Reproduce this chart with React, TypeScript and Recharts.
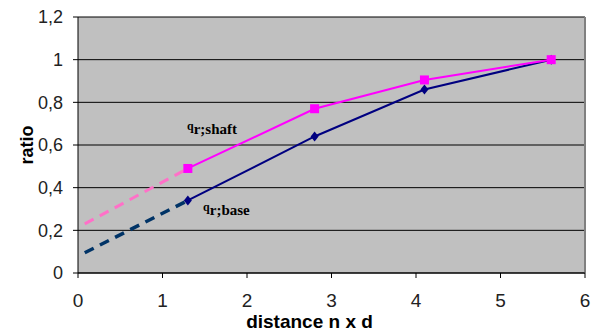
import { LineChart, Line, XAxis, YAxis, CartesianGrid, ReferenceLine, ReferenceDot } from "recharts";

// measured points
const distance = [1.3, 2.8, 4.1, 5.6];
const shaftRatio = [0.49, 0.77, 0.905, 1.0];
const baseRatio = [0.34, 0.64, 0.86, 1.0];

// dashed extrapolation toward x = 0
const extDistance = [0.08, 1.3];
const shaftExt = [0.23, 0.49];
const baseExt = [0.095, 0.34];

const xTicks = [0, 1, 2, 3, 4, 5, 6];
const yTicks = [0, 0.2, 0.4, 0.6, 0.8, 1, 1.2];

const toRows = (xs: number[], ys: number[]) => xs.map((x, i) => ({ x, y: ys[i] }));

const shaftData = toRows(distance, shaftRatio);
const baseData = toRows(distance, baseRatio);
const shaftExtData = toRows(extDistance, shaftExt);
const baseExtData = toRows(extDistance, baseExt);

const sans = "'Liberation Sans', Arial, sans-serif";

const SquareDot = (props: any) => {
  const { cx, cy } = props;
  if (cx == null || cy == null) return null;
  return <rect x={cx - 4.5} y={cy - 4.5} width={9} height={9} fill="#ff00ff" />;
};

const DiamondDot = (props: any) => {
  const { cx, cy } = props;
  if (cx == null || cy == null) return null;
  return (
    <polygon
      points={`${cx},${cy - 5} ${cx + 4},${cy} ${cx},${cy + 5} ${cx - 4},${cy}`}
      fill="#000080"
    />
  );
};

const SeriesLabel = (name: string) => (props: any) => {
  const vb = props.viewBox || {};
  const x = vb.x + (vb.width || 0) / 2;
  const y = vb.y + (vb.height || 0) / 2;
  return (
    <text x={x} y={y} fontFamily="'Liberation Serif', serif" fontWeight="bold" fill="#000">
      <tspan fontSize={12} dy={-4}>q</tspan>
      <tspan fontSize={15} dy={4}>{name}</tspan>
    </text>
  );
};

const YLabel = (props: any) => {
  const { x, y, height } = props.viewBox;
  const cx = x + 27;
  const cy = y + height / 2;
  return (
    <text
      x={cx}
      y={cy}
      transform={`rotate(-90 ${cx} ${cy})`}
      textAnchor="middle"
      dominantBaseline="central"
      fontFamily={sans}
      fontWeight="bold"
      fontSize={18}
      fill="#000"
    >
      ratio
    </text>
  );
};

const XLabel = (props: any) => {
  const { x, y, width, height } = props.viewBox;
  return (
    <text
      x={x + width / 2 - 22}
      y={y + height - 6}
      textAnchor="middle"
      fontFamily={sans}
      fontWeight="bold"
      fontSize={19}
      fill="#000"
    >
      distance n x  d
    </text>
  );
};

export default function App() {
  return (
    <div style={{ position: "absolute", left: 0, top: 0, width: 595, height: 334, background: "#fff" }}>
      <LineChart width={595} height={334} margin={{ top: 17, right: 10, bottom: 0, left: 0 }}>
        <CartesianGrid vertical={false} stroke="#000" fill="#c0c0c0" fillOpacity={1} />
        <XAxis
          type="number"
          dataKey="x"
          domain={[0, 6]}
          ticks={xTicks}
          height={61}
          stroke="#000"
          tickSize={5}
          tickMargin={16}
          tick={{ fontSize: 19, fill: "#222", fontFamily: sans }}
          label={<XLabel />}
        />
        <YAxis
          type="number"
          domain={[0, 1.2]}
          ticks={yTicks}
          width={78}
          stroke="#000"
          tickSize={5}
          tickMargin={10}
          tickFormatter={(v: number) => String(v).replace(".", ",")}
          tick={{ fontSize: 18, fill: "#222", fontFamily: sans }}
          label={<YLabel />}
        />
        <ReferenceLine x={6} stroke="#808080" strokeWidth={2} />
        <Line
          data={shaftExtData}
          dataKey="y"
          stroke="#ff70c8"
          strokeWidth={3}
          strokeDasharray="10 7"
          dot={false}
          isAnimationActive={false}
        />
        <Line
          data={baseExtData}
          dataKey="y"
          stroke="#003366"
          strokeWidth={3.5}
          strokeDasharray="10 7"
          dot={false}
          isAnimationActive={false}
        />
        <Line
          data={baseData}
          dataKey="y"
          stroke="#000080"
          strokeWidth={2}
          dot={<DiamondDot />}
          isAnimationActive={false}
        />
        <Line
          data={shaftData}
          dataKey="y"
          stroke="#ff00ff"
          strokeWidth={2}
          dot={<SquareDot />}
          isAnimationActive={false}
        />
        <ReferenceDot x={1.29} y={0.65} r={0} fill="none" stroke="none" label={SeriesLabel("r;shaft")} />
        <ReferenceDot x={1.48} y={0.27} r={0} fill="none" stroke="none" label={SeriesLabel("r;base")} />
      </LineChart>
    </div>
  );
}
